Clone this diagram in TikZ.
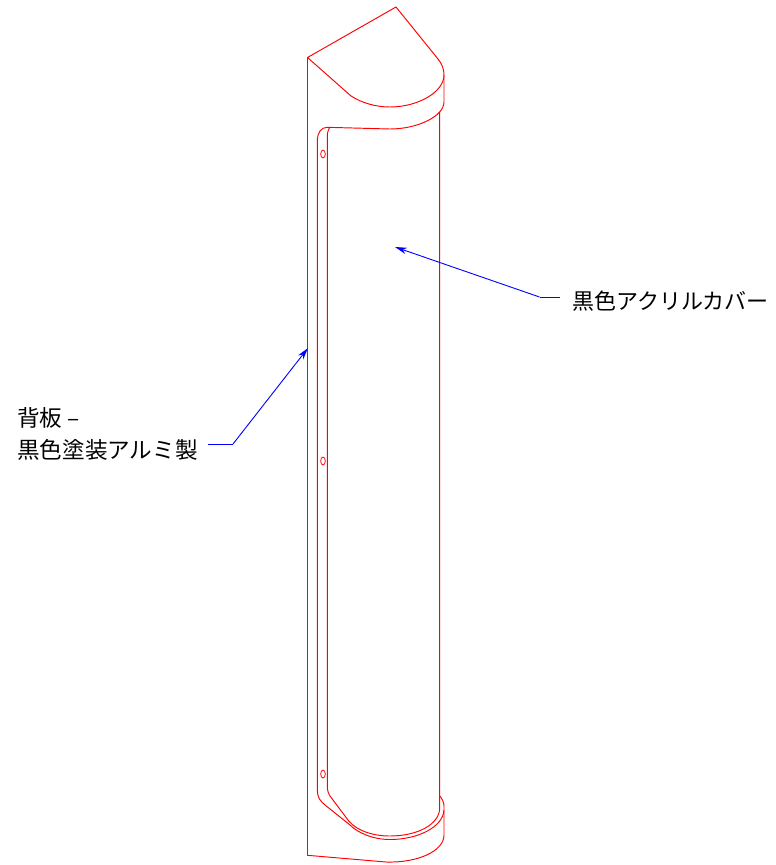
\documentclass[tikz,border=0pt]{standalone}
\usepackage{fontspec}
\setmainfont{Noto Sans CJK JP}
\usetikzlibrary{arrows.meta,shapes.geometric}
\begin{document}
\begin{tikzpicture}[x=1pt,y=-1pt,
  body/.style={draw=red,line width=0.95pt,line join=round},
  leader/.style={draw=blue,line width=0.9pt},
  tipped/.style={leader,-{Stealth[length=12pt,width=6.5pt]}},
  label/.style={anchor=west,inner sep=0pt,align=left,text=black},
  hole/.style={draw=red,line width=0.8pt,ellipse,minimum width=4.6pt,minimum height=8pt,inner sep=0pt}]
\useasboundingbox (0,0) rectangle (776,865);
% top cap
\draw[body] (307.5,57.5) -- (396,7) -- (438,59) .. controls (442,64) and (444,69) .. (444,75)
  .. controls (444,92) and (418,107) .. (390,107) .. controls (376,107) and (362,103) .. (351,96) -- cycle;
\draw[body] (444,75) -- (444,102) .. controls (444,116) and (418,129) .. (390,129) -- (327,127.3)
  .. controls (321,127.3) and (317.3,133) .. (317.3,141);
\draw[body] (329.5,127.5) .. controls (328,130) and (327.3,133) .. (327.3,137);
% body verticals
\draw[body] (307.5,57.5) -- (307.5,855.3) -- (386,862) .. controls (418,863) and (444,851) .. (444,835)
  -- (444,806) .. controls (444,802) and (442,799) .. (439.7,795.7);
\draw[body] (439.7,112) -- (439.7,808) .. controls (439.7,824) and (418,836) .. (390,836)
  .. controls (373,836) and (358,831) .. (349.3,821.7) -- (331.7,798.3) .. controls (329,795) and (327.3,792) .. (327.3,786) -- (327.3,137);
\draw[body] (444,810) .. controls (443,827) and (418,839.5) .. (390,839.5)
  .. controls (373,839.5) and (358,833) .. (350,825) -- (325,805) .. controls (320,801) and (317.3,797) .. (317.3,790) -- (317.3,141);
% holes
\node[hole] (h1) at (323,154) {};
\node[hole] (h2) at (323,461) {};
\node[hole] (h3) at (323,774) {};
% labels
\node[label,font=\fontsize{22.6}{32}\selectfont] (back) at (17,434) {背板 –\\黒色塗装アルミ製};
\node[label,font=\fontsize{22}{32}\selectfont] (cover) at (572,301) {黒色アクリルカバー};
% leaders
\coordinate (backend) at (208,444);
\coordinate (backknee) at (233,444);
\coordinate (backtip) at (308,348);
\coordinate (coverend) at (560,297);
\coordinate (coverknee) at (539.5,297);
\coordinate (covertip) at (395,247);
\draw[leader] (backend) -- (backknee);
\draw[tipped] (backknee) -- (backtip);
\draw[leader] (coverend) -- (coverknee);
\draw[tipped] (coverknee) -- (covertip);
\end{tikzpicture}
\end{document}
